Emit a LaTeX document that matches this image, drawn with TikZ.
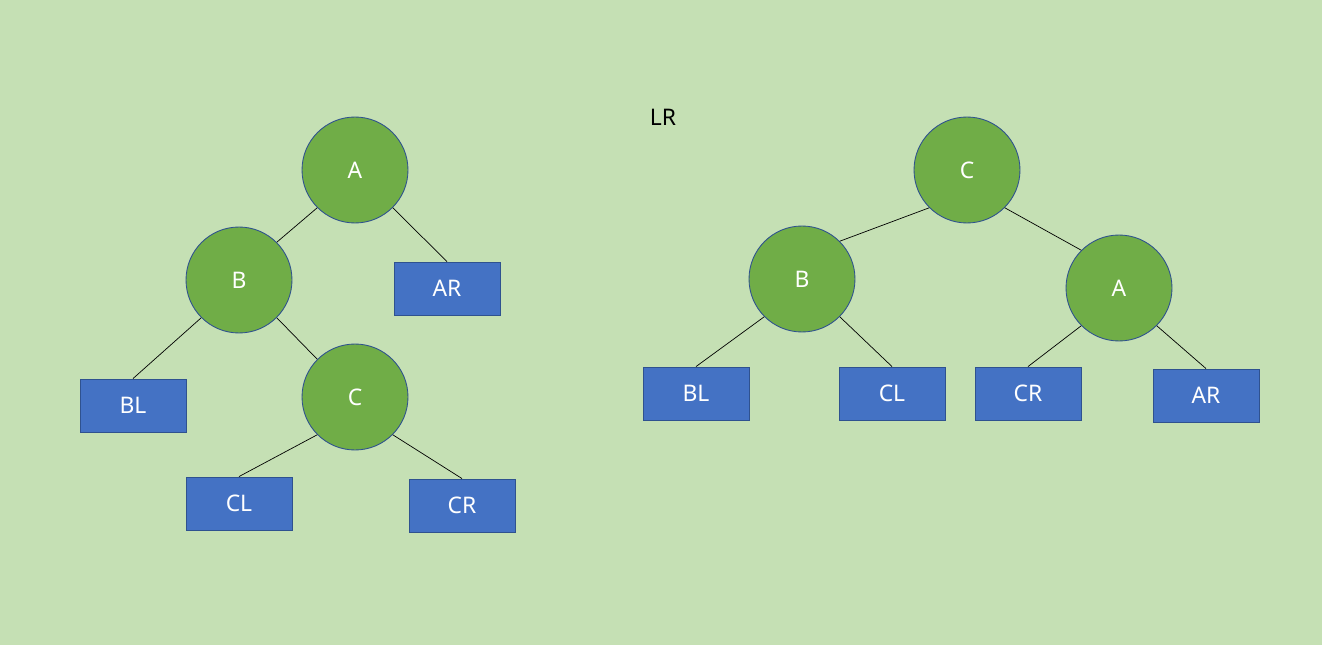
\documentclass[tikz,border=0pt]{standalone}
\usepackage{fontspec}
\setmainfont{Noto Sans}
\usepackage{tikz}
\usetikzlibrary{positioning, shapes.geometric}

\definecolor{bggreen}{HTML}{C5E0B4}
\definecolor{nodegreen}{HTML}{70AD47}
\definecolor{leafblue}{HTML}{4472C4}
\definecolor{edgeblue}{HTML}{2F528F}

\begin{document}
\begin{tikzpicture}[x = 0.02cm, y = -0.02cm,
    every node/.style = { font = \fontsize{13}{15}\selectfont },
    inner/.style = { shape = circle, draw = edgeblue, fill = nodegreen, text = white,
                     minimum size = 2.12cm, inner sep = 0pt, line width = .5pt },
    leaf/.style = { shape = rectangle, draw = edgeblue, fill = leafblue, text = white,
                    minimum width = 2.12cm, minimum height = 1.06cm, inner sep = 0pt, line width = .5pt },
    link/.style = { draw = black, line width = .4pt }]
      \fill [bggreen] (0,0) rectangle (1322,645);
      \useasboundingbox (0,0) rectangle (1322,645);

      % before
      \node [inner] (a1) at (355,170) {A};
      \node [inner] (b1) at (239,280) {B};
      \node [inner] (c1) at (355,397) {C};
      \node [leaf] (ar1) at (447,288.5) {AR};
      \node [leaf] (bl1) at (133,405.5) {BL};
      \node [leaf] (cl1) at (239,503.5) {CL};
      \node [leaf] (cr1) at (462,505.5) {CR};

      \draw [link] (a1.south west) -- (b1.north east);
      \draw [link] (a1.south east) -- (ar1.north);
      \draw [link] (b1.south west) -- (bl1.north);
      \draw [link] (b1.south east) -- (c1.north west);
      \draw [link] (c1.south west) -- (cl1.north);
      \draw [link] (c1.south east) -- (cr1.north);

      \node (lr) at (663,117) {LR};

      % after
      \node [inner] (c2) at (967,170) {C};
      \node [inner] (b2) at (802,279) {B};
      \node [inner] (a2) at (1119,288) {A};
      \node [leaf] (bl2) at (696,393.5) {BL};
      \node [leaf] (cl2) at (892,393.5) {CL};
      \node [leaf] (cr2) at (1028,393.5) {CR};
      \node [leaf] (ar2) at (1206,395.5) {AR};

      \draw [link] (c2.south west) -- (b2.north east);
      \draw [link] (c2.south east) -- (a2.north west);
      \draw [link] (b2.south west) -- (bl2.north);
      \draw [link] (b2.south east) -- (cl2.north);
      \draw [link] (a2.south west) -- (cr2.north);
      \draw [link] (a2.south east) -- (ar2.north);

    \end{tikzpicture}
\end{document}
